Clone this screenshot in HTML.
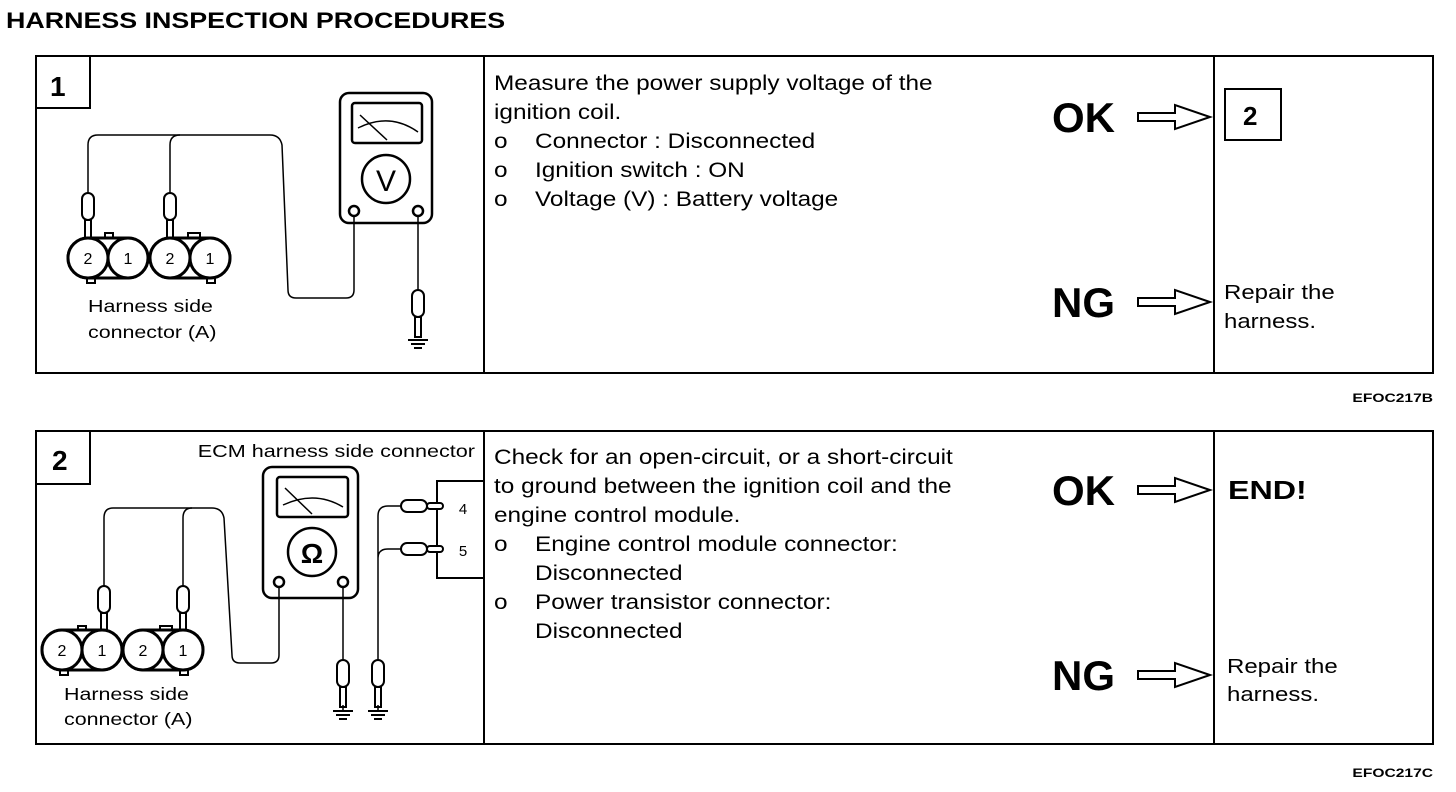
<!DOCTYPE html>
<html><head><meta charset="utf-8"><style>
html,body{margin:0;padding:0;background:#fff;}
svg{display:block;}
text{font-family:"Liberation Sans",Arial,sans-serif;fill:#000;}
</style></head><body>
<svg width="1456" height="792" viewBox="0 0 1456 792" xmlns="http://www.w3.org/2000/svg">
<defs>
<g id="arrow"><path d="M0,-4 H37 V-12 L72,0 L37,12 V4 H0 Z" fill="#fff" stroke="#000" stroke-width="2"/></g>
<g id="probe"><rect x="-6" y="0" width="12" height="27" rx="6" fill="#fff" stroke="#000" stroke-width="2"/><rect x="-3" y="27" width="6" height="20" fill="#fff" stroke="#000" stroke-width="2"/></g>
<g id="gnd"><line x1="-10" y1="0" x2="10" y2="0" stroke="#000" stroke-width="2"/><line x1="-7" y1="4" x2="7" y2="4" stroke="#000" stroke-width="2"/><line x1="-4" y1="8" x2="4" y2="8" stroke="#000" stroke-width="2"/></g>
</defs>
<text transform="translate(6,28) scale(1.22,1)" font-size="22" font-weight="bold">HARNESS INSPECTION PROCEDURES</text>

<!-- Panel 1 -->
<g fill="none" stroke="#000" stroke-width="2">
<rect x="36" y="56" width="1397" height="317"/>
<line x1="484" y1="56" x2="484" y2="373"/>
<line x1="1214" y1="56" x2="1214" y2="373"/>
<path d="M36,108 H90 V56"/>
<rect x="1225" y="89" width="56" height="51"/>
</g>
<text x="50" y="96" font-size="28" font-weight="bold">1</text>
<text x="1243" y="125" font-size="26" font-weight="bold">2</text>
<g fill="none" stroke="#000" stroke-width="2.5">
<rect x="340" y="93" width="92" height="130" rx="9"/>
<rect x="352" y="103" width="70" height="40" rx="3"/>
<path d="M358,128 Q390,112 418,132" stroke-width="1.5"/>
<line x1="360" y1="115" x2="387" y2="140" stroke-width="1.5"/>
<circle cx="386" cy="179" r="24"/>
<circle cx="354" cy="211" r="5"/>
<circle cx="418" cy="211" r="5"/>
<path d="M354,216 V290 Q354,298 346,298 H296 Q288,298 288,290 L282,145 Q280,135 270,135 H98 Q88,135 88,145 V195" stroke-width="1.5"/>
<path d="M170,195 V145 Q170,135 180,135" stroke-width="1.5"/>
<line x1="418" y1="216" x2="418" y2="290" stroke-width="1.5"/>
<line x1="418" y1="335" x2="418" y2="338" stroke-width="1.5"/>
</g>
<text x="386" y="191" font-size="30" text-anchor="middle">V</text>
<use href="#probe" x="88" y="193"/>
<use href="#probe" x="170" y="193"/>
<use href="#probe" x="418" y="290"/>
<use href="#gnd" x="418" y="340"/>
<g fill="#fff" stroke="#000" stroke-width="3">
<rect x="105" y="233" width="8" height="6" stroke-width="2"/>
<rect x="188" y="233" width="12" height="6" stroke-width="2"/>
<rect x="87" y="277" width="8" height="6" stroke-width="2"/>
<rect x="207" y="277" width="8" height="6" stroke-width="2"/>
<path d="M88,238 H128 A20,20 0 0 1 128,278 H88 A20,20 0 0 1 88,238 Z"/>
<circle cx="88" cy="258" r="20"/><circle cx="128" cy="258" r="20"/>
<path d="M170,238 H210 A20,20 0 0 1 210,278 H170 A20,20 0 0 1 170,238 Z"/>
<circle cx="170" cy="258" r="20"/><circle cx="210" cy="258" r="20"/>
</g>
<g font-size="16" text-anchor="middle"><text x="88" y="264">2</text><text x="128" y="264">1</text><text x="170" y="264">2</text><text x="210" y="264">1</text></g>
<text transform="translate(88,312) scale(1.19,1)" font-size="18">Harness side</text>
<text transform="translate(88,338) scale(1.19,1)" font-size="18">connector (A)</text>
<g font-size="21">
<text transform="translate(494,90) scale(1.16,1)">Measure the power supply voltage of the</text>
<text transform="translate(494,119) scale(1.16,1)">ignition coil.</text>
<text transform="translate(494,148) scale(1.16,1)">o</text><text transform="translate(535,148) scale(1.16,1)">Connector : Disconnected</text>
<text transform="translate(494,177) scale(1.16,1)">o</text><text transform="translate(535,177) scale(1.16,1)">Ignition switch : ON</text>
<text transform="translate(494,206) scale(1.16,1)">o</text><text transform="translate(535,206) scale(1.16,1)">Voltage (V) : Battery voltage</text>
</g>
<text x="1052" y="132" font-size="42" font-weight="bold">OK</text>
<use href="#arrow" x="1138" y="117"/>
<text x="1052" y="317" font-size="42" font-weight="bold">NG</text>
<use href="#arrow" x="1138" y="302"/>
<text transform="translate(1224,299) scale(1.2,1)" font-size="20">Repair the</text>
<text transform="translate(1224,328) scale(1.2,1)" font-size="20">harness.</text>
<text transform="translate(1433,402) scale(1.3,1)" font-size="12" font-weight="bold" text-anchor="end">EFOC217B</text>

<!-- Panel 2 -->
<g fill="none" stroke="#000" stroke-width="2">
<rect x="36" y="431" width="1397" height="313"/>
<line x1="484" y1="431" x2="484" y2="744"/>
<line x1="1214" y1="431" x2="1214" y2="744"/>
<path d="M36,484 H90 V431"/>
<path d="M484,481 H437 V578 H484"/>
</g>
<text x="52" y="470" font-size="28" font-weight="bold">2</text>
<text transform="translate(475,457) scale(1.2,1)" font-size="18" text-anchor="end">ECM harness side connector</text>
<text x="463" y="514" font-size="15" text-anchor="middle">4</text>
<text x="463" y="556" font-size="15" text-anchor="middle">5</text>
<g fill="none" stroke="#000" stroke-width="2.5">
<rect x="263" y="467" width="95" height="131" rx="9"/>
<rect x="277" y="477" width="71" height="40" rx="3"/>
<path d="M283,505 Q315,490 343,507" stroke-width="1.5"/>
<line x1="285" y1="488" x2="312" y2="514" stroke-width="1.5"/>
<circle cx="312" cy="552" r="24"/>
<circle cx="279" cy="582" r="5"/>
<circle cx="343" cy="582" r="5"/>
<path d="M279,587 V655 Q279,663 271,663 H240 Q232,663 232,655 L224,518 Q222,508 212,508 H113 Q104,508 104,518 V586" stroke-width="1.5"/>
<path d="M183,586 V518 Q183,508 192,508" stroke-width="1.5"/>
<line x1="343" y1="587" x2="343" y2="660" stroke-width="1.5"/>
<path d="M378,660 V516 Q378,506 388,506 H401 M378,558 Q378,549 388,549 H401" stroke-width="1.5"/>
</g>
<text x="312" y="563" font-size="28" font-weight="bold" text-anchor="middle">Ω</text>
<g fill="#fff" stroke="#000" stroke-width="2">
<rect x="401" y="500" width="26" height="12" rx="6"/><rect x="427" y="503" width="16" height="6" rx="3"/>
<rect x="401" y="543" width="26" height="12" rx="6"/><rect x="427" y="546" width="16" height="6" rx="3"/>
</g>
<use href="#probe" x="104" y="586"/>
<use href="#probe" x="183" y="586"/>
<use href="#probe" x="343" y="660"/>
<use href="#probe" x="378" y="660"/>
<use href="#gnd" x="343" y="711"/>
<use href="#gnd" x="378" y="711"/>
<line x1="343" y1="705" x2="343" y2="711" stroke="#000" stroke-width="1.5"/>
<line x1="378" y1="705" x2="378" y2="711" stroke="#000" stroke-width="1.5"/>
<g fill="#fff" stroke="#000" stroke-width="3">
<rect x="78" y="626" width="8" height="6" stroke-width="2"/>
<rect x="160" y="626" width="12" height="6" stroke-width="2"/>
<rect x="60" y="669" width="8" height="6" stroke-width="2"/>
<rect x="180" y="669" width="8" height="6" stroke-width="2"/>
<path d="M62,630 H102 A20,20 0 0 1 102,670 H62 A20,20 0 0 1 62,630 Z"/>
<circle cx="62" cy="650" r="20"/><circle cx="102" cy="650" r="20"/>
<path d="M143,630 H183 A20,20 0 0 1 183,670 H143 A20,20 0 0 1 143,630 Z"/>
<circle cx="143" cy="650" r="20"/><circle cx="183" cy="650" r="20"/>
</g>
<g font-size="16" text-anchor="middle"><text x="62" y="656">2</text><text x="102" y="656">1</text><text x="143" y="656">2</text><text x="183" y="656">1</text></g>
<text transform="translate(64,700) scale(1.19,1)" font-size="18">Harness side</text>
<text transform="translate(64,725) scale(1.19,1)" font-size="18">connector (A)</text>
<g font-size="21">
<text transform="translate(494,464) scale(1.16,1)">Check for an open-circuit, or a short-circuit</text>
<text transform="translate(494,493) scale(1.16,1)">to ground between the ignition coil and the</text>
<text transform="translate(494,522) scale(1.16,1)">engine control module.</text>
<text transform="translate(494,551) scale(1.16,1)">o</text><text transform="translate(535,551) scale(1.16,1)">Engine control module connector:</text>
<text transform="translate(535,580) scale(1.16,1)">Disconnected</text>
<text transform="translate(494,609) scale(1.16,1)">o</text><text transform="translate(535,609) scale(1.16,1)">Power transistor connector:</text>
<text transform="translate(535,638) scale(1.16,1)">Disconnected</text>
</g>
<text x="1052" y="505" font-size="42" font-weight="bold">OK</text>
<use href="#arrow" x="1138" y="490"/>
<text transform="translate(1228,499) scale(1.24,1)" font-size="26" font-weight="bold">END!</text>
<text x="1052" y="690" font-size="42" font-weight="bold">NG</text>
<use href="#arrow" x="1138" y="675"/>
<text transform="translate(1227,673) scale(1.2,1)" font-size="20">Repair the</text>
<text transform="translate(1227,701) scale(1.2,1)" font-size="20">harness.</text>
<text transform="translate(1433,777) scale(1.3,1)" font-size="12" font-weight="bold" text-anchor="end">EFOC217C</text>
</svg>
</body></html>
